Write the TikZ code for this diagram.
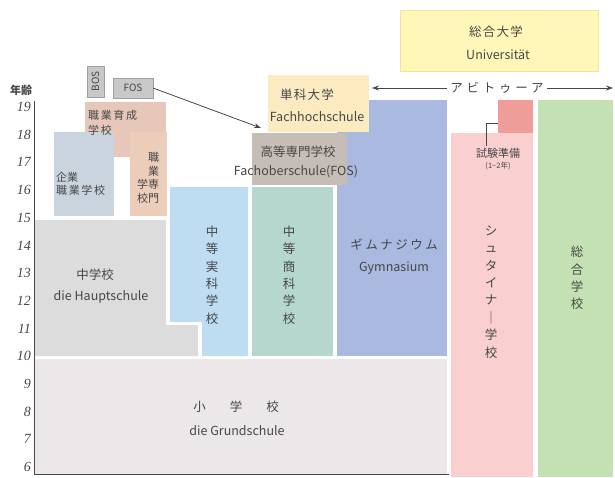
\documentclass[tikz,border=0pt]{standalone}
\usepackage{fontspec}
\setmainfont{Noto Sans CJK JP}
\newfontfamily\numfont{Liberation Serif}
\usetikzlibrary{arrows.meta}
\definecolor{grund}{HTML}{ECE8EA}
\definecolor{haupt}{HTML}{DCDCDC}
\definecolor{kigyo}{HTML}{C9D4DF}
\definecolor{ikusei}{HTML}{E6C7B9}
\definecolor{senmon}{HTML}{EBCDB9}
\definecolor{bosfos}{HTML}{C8C8C8}
\definecolor{jikka}{HTML}{BEDCF2}
\definecolor{shoka}{HTML}{B5D7CE}
\definecolor{gym}{HTML}{A9B9DF}
\definecolor{fh}{HTML}{FCEBC0}
\definecolor{fosch}{HTML}{C6BEB6}
\definecolor{uni}{HTML}{FFF7B8}
\definecolor{uniedge}{HTML}{F2E49A}
\definecolor{steiner}{HTML}{F9D0CF}
\definecolor{exam}{HTML}{EE9D98}
\definecolor{gesamt}{HTML}{C3E1B2}
\definecolor{txt}{HTML}{474747}
\begin{document}
\begin{tikzpicture}[x=1pt,y=-1pt,
  box/.style={inner sep=0pt, outer sep=0pt, anchor=north west},
  lbl/.style={text=txt, inner sep=0pt, align=center, font=\fontsize{12.5}{15}\selectfont},
  small/.style={text=txt, inner sep=0pt, align=center, font=\fontsize{11}{13.5}\selectfont},
  vtext/.style={text=txt, inner sep=0pt, align=center, font=\fontsize{12.5}{17.4}\selectfont},
  age/.style={text=txt, inner sep=0pt, anchor=east, font=\numfont\itshape\fontsize{14}{14}\selectfont}]
\useasboundingbox (0,0) rectangle (615,477);

% boxes
\node[box, fill=grund, minimum width=412pt, minimum height=115pt] (grundbox) at (35,359) {};
\fill[haupt] (35,220) -- (166,220) -- (166,325) -- (198,325) -- (198,356) -- (35,356) -- cycle;
\fill[jikka] (170,187) -- (248,187) -- (248,356) -- (202,356) -- (202,322) -- (170,322) -- cycle;
\node[box, fill=shoka, minimum width=81pt, minimum height=169pt] (shokabox) at (252,187) {};
\node[box, fill=gym, minimum width=110pt, minimum height=256pt] (gymbox) at (337,100) {};
\node[box, fill=fh, minimum width=101pt, minimum height=57pt] (fhbox) at (268,75) {};
\node[box, fill=fosch, minimum width=95pt, minimum height=52pt] (foschbox) at (252,133) {};
\node[box, fill=ikusei, minimum width=81pt, minimum height=55pt] (ikuseibox) at (85,102) {};
\node[box, fill=kigyo, minimum width=60pt, minimum height=84pt] (kigyobox) at (54,132) {};
\node[box, fill=senmon, minimum width=37pt, minimum height=84pt] (senmonbox) at (130,132) {};
\node[box, fill=bosfos, draw=bosfos!80!black, line width=0.4pt, minimum width=17pt, minimum height=31pt] (bosbox) at (87,66) {};
\node[box, fill=bosfos, draw=bosfos!80!black, line width=0.4pt, minimum width=40pt, minimum height=20pt] (fosbox) at (113,78) {};
\node[box, fill=uni, draw=uniedge, line width=0.8pt, minimum width=198pt, minimum height=61pt] (unibox) at (400,10) {};
\node[box, fill=steiner, minimum width=82pt, minimum height=344pt] (steinerbox) at (451,133) {};
\node[box, fill=exam, minimum width=35pt, minimum height=33pt] (exambox) at (498,100) {};
\node[box, fill=gesamt, minimum width=75pt, minimum height=377pt] (gesamtbox) at (538,100) {};

% axes
\coordinate (axtop) at (34,101);
\coordinate (axorigin) at (34,474);
\coordinate (axright) at (449,474);
\draw[txt, line width=1pt] (axtop) -- (axorigin) -- (axright);

% age labels
\node[text=txt, inner sep=0pt, font=\fontsize{11}{11}\selectfont\bfseries] (agehead) at (21,90) {年齢};
\foreach \a in {6,...,19} {
  \node[age] (age\a) at (31,{467-(\a-6)*27.7}) {\a};
}

% texts
\node[lbl] (hauptja) at (95,275) {中学校};
\node[lbl] (hauptde) at (101,297) {die Hauptschule};
\node[lbl] (grundja) at (236,407) {小\hspace{24pt}学\hspace{24pt}校};
\node[lbl] (grundde) at (237,431) {die Grundschule};
\node[vtext] (jikkatxt) at (212,275) {中\\等\\実\\科\\学\\校};
\node[vtext] (shokatxt) at (289,275) {中\\等\\商\\科\\学\\校};
\node[lbl] (gymja) at (394,245) {\addfontfeatures{LetterSpace=20}ギムナジウム};
\node[lbl] (gymde) at (394,268) {Gymnasium};
\node[vtext] (steinertxt) at (491,292) {シ\\ュ\\タ\\イ\\ナ\\｜\\学\\校};
\node[vtext] (gesamttxt) at (577,278) {総\\合\\学\\校};
\node[small] (examtxt) at (498,153) {試験準備};
\node[text=txt, inner sep=0pt, font=\fontsize{7.5}{8}\selectfont] (examyr) at (498,166) {(1\textasciitilde 2年)};
\node[lbl] (unija) at (496,32) {\addfontfeatures{LetterSpace=10}総合大学};
\node[lbl] (unide) at (498,55) {Universität};
\node[lbl] (fhja) at (307,95) {\addfontfeatures{LetterSpace=10}単科大学};
\node[lbl] (fhde) at (317,117) {Fachhochschule};
\node[lbl] (foschja) at (298,152) {高等専門学校};
\node[lbl] (foschde) at (296,172) {Fachoberschule(FOS)};
\node[small, anchor=west] (kigyo1) at (56,177) {企業};
\node[small, anchor=west] (kigyo2) at (56,190) {\addfontfeatures{LetterSpace=15}職業学校};
\node[small, anchor=west] (ikusei1) at (88,115) {\addfontfeatures{LetterSpace=15}職業育成};
\node[small, anchor=west] (ikusei2) at (88,130) {\addfontfeatures{LetterSpace=15}学校};
\node[small, align=right] (senmontxt) at (148,178) {職\\業\\学専\\校門};
\node[text=txt, inner sep=0pt, rotate=90, font=\fontsize{10}{10}\selectfont] (bostxt) at (bosbox.center) {BOS};
\node[text=txt, inner sep=0pt, font=\fontsize{10}{10}\selectfont] (fostxt) at (fosbox.center) {FOS};

% connectors
\draw[txt, line width=0.8pt, -{Stealth[length=7pt,width=5pt]}] (fosbox.east) -- ([xshift=9pt,yshift=5pt]foschbox.north west);
\coordinate (abileft) at (372,88);
\coordinate (abiright) at (613,88);
\draw[txt, line width=0.8pt, {Stealth[length=7pt,width=5pt]}-{Stealth[length=7pt,width=5pt]}] (abileft) -- (abiright);
\node[lbl, fill=white, inner xsep=3pt, inner ysep=1pt] (abitxt) at (497,88) {\addfontfeatures{LetterSpace=30}アビトゥーア};
\draw[txt, line width=0.7pt] ([yshift=-6.5pt]exambox.west) -| ([xshift=11pt,yshift=2pt]examtxt.north west);
\end{tikzpicture}
\end{document}
